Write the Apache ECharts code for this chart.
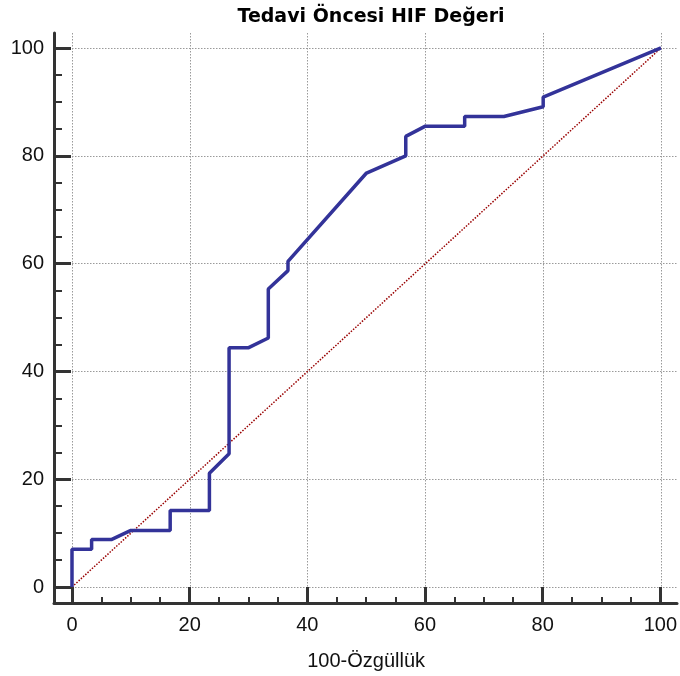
<!DOCTYPE html>
<html>
<head>
<meta charset="utf-8">
<script src="https://cdn.jsdelivr.net/npm/echarts@6/dist/echarts.min.js"></script>
<style>html,body{margin:0;padding:0;background:#fff}#c{width:680px;height:676px}</style>
</head>
<body>
<div id="c"></div>
<script>
const titleText = 'Tedavi Öncesi HIF Değeri';
const xAxisName = '100-Özgüllük';
const fpr = [0, 0, 3.33, 3.33, 6.67, 10, 16.67, 16.67, 23.33, 23.33, 26.67, 26.67, 30, 33.33, 33.33, 36.67, 36.67, 50, 56.67, 56.67, 60, 66.67, 66.67, 73.33, 80, 80, 100];
const tpr = [0, 7.0, 7.0, 8.8, 8.8, 10.5, 10.5, 14.2, 14.2, 21.1, 24.7, 44.4, 44.4, 46.2, 55.3, 58.7, 60.4, 76.8, 80.0, 83.6, 85.5, 85.5, 87.3, 87.3, 89.1, 90.9, 100];
const refX = [0, 100];
const refY = [0, 100];

const chart = echarts.init(document.getElementById('c'), null, {renderer: 'canvas'});
const roc = fpr.map((x, i) => [x, tpr[i]]);
const ref = refX.map((x, i) => [x, refY[i]]);
const font = 'Liberation Sans, Arial, sans-serif';
const gridLine = {show: true, showMinLine: false, showMaxLine: false, lineStyle: {color: '#9a9a9a', type: [1.5, 1.5], width: 1}};

chart.setOption({
  animation: false,
  backgroundColor: '#fff',
  title: {
    text: titleText, left: 366, top: 3, textAlign: 'center',
    textStyle: {fontFamily: 'DejaVu Sans', fontWeight: 'bold', fontSize: 19, color: '#000'}
  },
  grid: [
    {left: 54, right: 3, top: 33, bottom: 73},
    {left: 72, right: 19, top: 48, bottom: 89}
  ],
  xAxis: [
    {gridIndex: 0, type: 'value', min: -3.056, max: 102.72, minInterval: 20, maxInterval: 20,
     axisLine: {show: true, onZero: false, lineStyle: {color: '#333', width: 3}},
     axisTick: {show: false}, axisLabel: {show: false}, splitLine: gridLine},
    {gridIndex: 1, type: 'value', min: 0, max: 100, interval: 20, offset: 16,
     name: xAxisName, nameLocation: 'middle', nameGap: 48,
     nameTextStyle: {fontFamily: font, fontSize: 20, color: '#111'},
     axisLine: {show: false, onZero: false},
     axisTick: {show: true, inside: true, length: 16, lineStyle: {color: '#333', width: 3}},
     minorTick: {show: true, splitNumber: 4, length: 6, lineStyle: {color: '#333', width: 2}},
     axisLabel: {show: true, margin: 12, fontFamily: font, fontSize: 20, color: '#111'},
     splitLine: {show: false}}
  ],
  yAxis: [
    {gridIndex: 0, type: 'value', min: -2.968, max: 102.78, minInterval: 20, maxInterval: 20,
     axisLine: {show: true, onZero: false, lineStyle: {color: '#333', width: 3}},
     axisTick: {show: false}, axisLabel: {show: false}, splitLine: gridLine},
    {gridIndex: 1, type: 'value', min: 0, max: 100, interval: 20, offset: 18,
     axisLine: {show: false, onZero: false},
     axisTick: {show: true, inside: true, length: 17, lineStyle: {color: '#333', width: 3}},
     minorTick: {show: true, splitNumber: 4, length: 8, lineStyle: {color: '#333', width: 2}},
     axisLabel: {show: true, margin: 10, fontFamily: font, fontSize: 20, color: '#111'},
     splitLine: {show: false}}
  ],
  series: [
    {type: 'line', xAxisIndex: 0, yAxisIndex: 0, data: ref, symbol: 'none', silent: true,
     lineStyle: {color: '#990000', width: 1.5, type: [1.5, 1.5]}, z: 2},
    {type: 'line', xAxisIndex: 0, yAxisIndex: 0, data: roc, symbol: 'none', silent: true,
     lineStyle: {color: '#333399', width: 3.5}, z: 3}
  ]
});
</script>
</body>
</html>
